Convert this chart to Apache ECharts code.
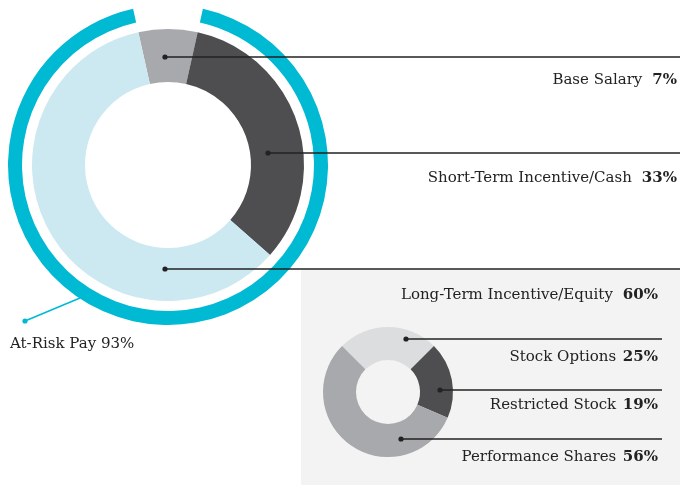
<!DOCTYPE html>
<html>
<head>
<meta charset="utf-8">
<script src="https://cdn.jsdelivr.net/npm/echarts@6/dist/echarts.min.js"></script>
<style>
  html, body { margin: 0; padding: 0; background: #fff; }
  #chart { width: 680px; height: 485px; }
</style>
</head>
<body>
<div id="chart"></div>
<script>
// data
const payNames = ['Base Salary', 'Short-Term Incentive/Cash', 'Long-Term Incentive/Equity'];
const payValues = [7, 33, 60];
const atRiskName = 'At-Risk Pay';
const atRiskValue = 93;
const ltiNames = ['Stock Options', 'Restricted Stock', 'Performance Shares'];
const ltiValues = [25, 19, 56];

// layout (pixels)
const mainCenter = [168, 165];
const smallCenter = [388, 392];
const payLeader = [
  { dot: [165, 57],  endX: 680, labelY: 80,  labelX: 677 },
  { dot: [268, 153], endX: 680, labelY: 178, labelX: 677 },
  { dot: [165, 269], endX: 680, labelY: 295, labelX: 658 }
];
const ltiLeader = [
  { dot: [406, 339], endX: 662, labelY: 357, labelX: 658 },
  { dot: [440, 390], endX: 662, labelY: 405, labelX: 658 },
  { dot: [401, 439], endX: 662, labelY: 457, labelX: 658 }
];
const riskLeader = { from: [80, 298], dot: [25, 321], labelX: 10, labelY: 344 };

const serif = 'DejaVu Serif';
const ink = '#222';
const teal = '#00b9d3';
const rich = {
  n: { fontFamily: serif, fontSize: 15, color: ink },
  p: { fontFamily: serif, fontSize: 15, color: ink, fontWeight: 'bold' }
};
const total = arr => arr.reduce((s, v) => s + v, 0);

const chart = echarts.init(document.getElementById('chart'), null, { renderer: 'canvas' });

function leader(from, to, color){
  return [
    { type: 'line', z: 100, shape: { x1: from[0], y1: from[1], x2: to[0], y2: to[1] },
      style: { stroke: color, lineWidth: 1.5 } },
    { type: 'circle', z: 101, shape: { cx: from[0], cy: from[1], r: 2.6 }, style: { fill: color } }
  ];
}

const leaders = [...payLeader, ...ltiLeader].flatMap(l => leader(l.dot, [l.endX, l.dot[1]], ink));
leaders.push(...leader(riskLeader.dot, riskLeader.from, teal));

function placeLabel(list){
  return p => {
    const l = list[p.dataIndex];
    return { x: l.labelX, y: l.labelY, align: 'right', verticalAlign: 'middle' };
  };
}

chart.setOption({
  animation: false,
  graphic: [
    { type: 'rect', z: -10, shape: { x: 301, y: 270, width: 379, height: 215 }, style: { fill: '#f2f3f2' } },
    ...leaders
  ],
  series: [
    {
      name: 'at-risk',
      type: 'pie',
      center: mainCenter,
      radius: [146, 160],
      startAngle: 90 - (100 - atRiskValue) / 100 * 180,
      clockwise: true,
      silent: true,
      avoidLabelOverlap: false,
      label: { show: false },
      labelLine: { show: false },
      data: [
        {
          name: atRiskName, value: atRiskValue,
          itemStyle: { color: teal },
          label: { show: true, formatter: '{n|{b} {c}%}', rich }
        },
        { name: 'gap', value: 100 - atRiskValue, itemStyle: { color: 'rgba(0,0,0,0)' } }
      ],
      labelLayout: () => ({
        x: riskLeader.labelX, y: riskLeader.labelY, align: 'left', verticalAlign: 'middle'
      })
    },
    {
      name: 'pay',
      type: 'pie',
      center: mainCenter,
      radius: [83, 136],
      startAngle: 90 + payValues[0] / total(payValues) * 180,
      clockwise: true,
      silent: true,
      avoidLabelOverlap: false,
      data: payNames.map((name, i) => ({
        name, value: payValues[i],
        itemStyle: { color: ['#a8a9ac', '#4e4e50', '#cce9f1'][i] }
      })),
      label: { show: true, formatter: '{n|{b}}   {p|{c}%}', rich },
      labelLine: { show: false },
      labelLayout: placeLabel(payLeader)
    },
    {
      name: 'lti',
      type: 'pie',
      center: smallCenter,
      radius: [32, 65],
      startAngle: 90 + ltiValues[0] / total(ltiValues) * 180,
      clockwise: true,
      silent: true,
      avoidLabelOverlap: false,
      data: ltiNames.map((name, i) => ({
        name, value: ltiValues[i],
        itemStyle: { color: ['#dcdddf', '#4e4e50', '#a8a9ac'][i] }
      })),
      label: { show: true, formatter: '{n|{b}}  {p|{c}%}', rich },
      labelLine: { show: false },
      labelLayout: placeLabel(ltiLeader)
    }
  ]
});
</script>
</body>
</html>
